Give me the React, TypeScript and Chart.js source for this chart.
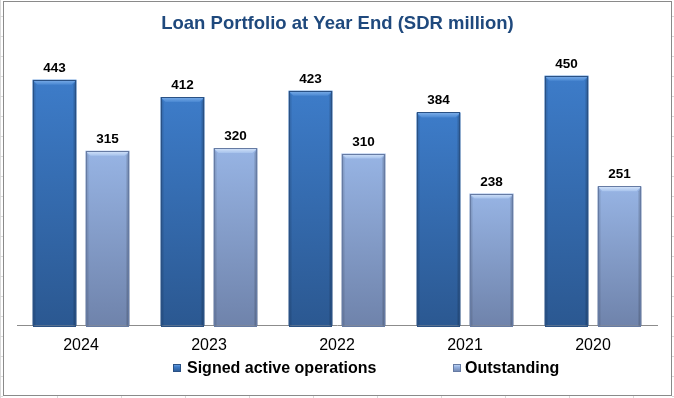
import React, { useEffect, useRef } from "react";
import { Chart, registerables } from "chart.js";

Chart.register(...registerables);

const categories = ["2024", "2023", "2022", "2021", "2020"];
const signedActive = [443, 412, 423, 384, 450];
const outstanding = [315, 320, 310, 238, 251];
const seriesNames = ["Signed active operations", "Outstanding"];
const titleText = "Loan Portfolio at Year End (SDR million)";

const FONT = '"Liberation Sans", Arial, sans-serif';

const palette = [
  { top: "#3d7cc9", bottom: "#2b5891", bevelA: "#7fb0ea", bevelB: "#4a88d2", border: "#2a5184" },
  { top: "#97b4e4", bottom: "#6f83ab", bevelA: "#d6e5fa", bevelB: "#a6c2ec", border: "#667ba3" },
];

function barGradient(idx: number) {
  return (c: any) => {
    const chart = c.chart;
    const area = chart.chartArea;
    const p = palette[idx];
    if (!area || c.raw === undefined) return p.top;
    const yTop = chart.scales.y.getPixelForValue(c.raw);
    const g = chart.ctx.createLinearGradient(0, yTop, 0, area.bottom);
    g.addColorStop(0, p.top);
    g.addColorStop(1, p.bottom);
    return g;
  };
}

const decorPlugin = {
  id: "decor",
  beforeDraw(chart: any) {
    const ctx = chart.ctx;
    ctx.save();
    ctx.fillStyle = "#ffffff";
    ctx.fillRect(0, 0, chart.width, chart.height);
    ctx.strokeStyle = "#d9d9d9";
    ctx.lineWidth = 1;
    for (let y = 16; y < 398; y += 20) {
      ctx.beginPath();
      ctx.moveTo(0, y + 0.5);
      ctx.lineTo(3, y + 0.5);
      ctx.moveTo(672, y + 0.5);
      ctx.lineTo(674, y + 0.5);
      ctx.stroke();
    }
    for (let x = 57; x < 674; x += 64) {
      ctx.beginPath();
      ctx.moveTo(x + 0.5, 396);
      ctx.lineTo(x + 0.5, 398);
      ctx.stroke();
    }
    ctx.beginPath();
    ctx.moveTo(0.5, 0);
    ctx.lineTo(0.5, 398);
    ctx.stroke();
    ctx.strokeStyle = "#8a8a8a";
    ctx.strokeRect(3.5, 1.5, 668, 394);
    ctx.restore();
  },
  afterDatasetsDraw(chart: any) {
    const ctx = chart.ctx;
    ctx.save();
    chart.data.datasets.forEach((ds: any, di: number) => {
      const meta = chart.getDatasetMeta(di);
      const p = palette[di];
      meta.data.forEach((bar: any, i: number) => {
        const { x, y, base, width } = bar.getProps(["x", "y", "base", "width"], true);
        const l = x - width / 2;
        const r = x + width / 2;
        const b = 5;
        ctx.fillStyle = "rgba(0,0,0,0.10)";
        ctx.beginPath();
        ctx.moveTo(l, y);
        ctx.lineTo(l + 3, y + b);
        ctx.lineTo(l + 3, base);
        ctx.lineTo(l, base);
        ctx.closePath();
        ctx.fill();
        ctx.fillStyle = "rgba(0,0,0,0.16)";
        ctx.beginPath();
        ctx.moveTo(r, y);
        ctx.lineTo(r - 3, y + b);
        ctx.lineTo(r - 3, base);
        ctx.lineTo(r, base);
        ctx.closePath();
        ctx.fill();
        const g = ctx.createLinearGradient(0, y, 0, y + b);
        g.addColorStop(0, p.bevelA);
        g.addColorStop(1, p.bevelB);
        ctx.fillStyle = g;
        ctx.beginPath();
        ctx.moveTo(l, y);
        ctx.lineTo(r, y);
        ctx.lineTo(r - b, y + b);
        ctx.lineTo(l + b, y + b);
        ctx.closePath();
        ctx.fill();
        ctx.strokeStyle = p.border;
        ctx.lineWidth = 1;
        ctx.strokeRect(Math.round(l) + 0.5, Math.round(y) + 0.5, Math.round(r) - Math.round(l) - 1, Math.round(base) - Math.round(y));
        const v = ds.data[i];
        ctx.fillStyle = "#000000";
        ctx.font = `bold 13.5px ${FONT}`;
        ctx.textAlign = "center";
        ctx.textBaseline = "alphabetic";
        ctx.fillText(String(v), x, y - 8);
      });
    });
    ctx.restore();
  },
  afterDraw(chart: any) {
    const ctx = chart.ctx;
    ctx.save();
    ctx.fillStyle = "#1f497d";
    ctx.font = `bold 18.5px ${FONT}`;
    ctx.textAlign = "center";
    ctx.textBaseline = "alphabetic";
    ctx.fillText(titleText, 337.5, 28.5);
    const items = [
      { mx: 173, tx: 187 },
      { mx: 453, tx: 465 },
    ];
    chart.data.datasets.forEach((ds: any, di: number) => {
      const p = palette[di];
      const it = items[di];
      const g = ctx.createLinearGradient(0, 364, 0, 372);
      g.addColorStop(0, p.bevelA);
      g.addColorStop(0.35, p.top);
      g.addColorStop(1, p.bottom);
      ctx.fillStyle = g;
      ctx.fillRect(it.mx, 364, 8, 8);
      ctx.strokeStyle = p.border;
      ctx.lineWidth = 1;
      ctx.strokeRect(it.mx + 0.5, 364.5, 7, 7);
      ctx.fillStyle = "#000000";
      ctx.font = `bold 16px ${FONT}`;
      ctx.textAlign = "left";
      ctx.fillText(ds.label, it.tx, 373);
    });
    ctx.restore();
  },
};

export default function App() {
  const ref = useRef<HTMLCanvasElement | null>(null);
  useEffect(() => {
    if (!ref.current) return;
    const chart = new Chart(ref.current, {
      type: "bar",
      data: {
        labels: categories,
        datasets: [
          {
            label: seriesNames[0],
            data: signedActive,
            backgroundColor: barGradient(0),
            borderWidth: 0,
            categoryPercentage: 0.828,
            barPercentage: 0.83,
          },
          {
            label: seriesNames[1],
            data: outstanding,
            backgroundColor: barGradient(1),
            borderWidth: 0,
            categoryPercentage: 0.828,
            barPercentage: 0.83,
          },
        ],
      },
      options: {
        responsive: false,
        animation: false,
        devicePixelRatio: 1,
        layout: { padding: { left: 17, right: 17, top: 48, bottom: 33 } },
        plugins: {
          legend: { display: false },
          title: { display: false },
          tooltip: { enabled: false },
        },
        scales: {
          y: { display: false, min: 0, max: 500 },
          x: {
            grid: { display: false, drawTicks: false },
            border: { display: true, color: "#8c8c8c", width: 1 },
            ticks: {
              color: "#000000",
              font: { family: FONT, size: 16 },
              padding: 10,
            },
          },
        },
      },
      plugins: [decorPlugin],
    });
    return () => chart.destroy();
  }, []);
  return (
    <div style={{ position: "absolute", left: 0, top: 0, width: 674, height: 398 }}>
      <canvas ref={ref} width={674} height={398} style={{ display: "block" }} />
    </div>
  );
}
